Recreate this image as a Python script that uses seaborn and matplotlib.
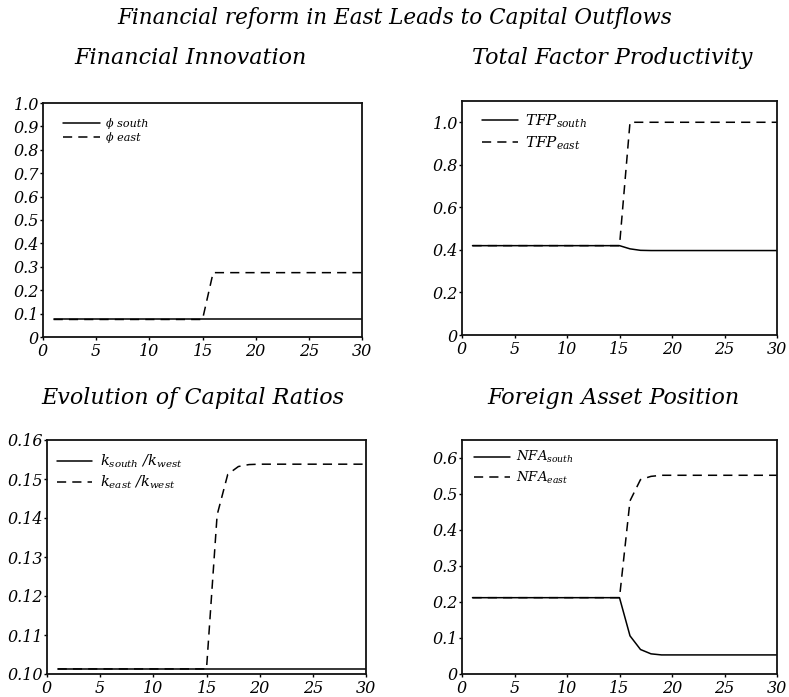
import numpy as np
import pandas as pd
import matplotlib
matplotlib.use("Agg")
import matplotlib.pyplot as plt
import seaborn as sns

# periods
t = list(range(1, 31))

# financial innovation (phi)
phi_south = [0.075] * 30
phi_east = [0.075] * 15 + [0.275] * 15

# total factor productivity
tfp_south = [0.42] * 15 + [0.405, 0.398] + [0.397] * 13
tfp_east = [0.42] * 15 + [1.0] * 15

# capital ratios k / k_west
k_south = [0.1013] * 30
k_east = [0.1013] * 15 + [0.1408, 0.1512, 0.1532, 0.1537] + [0.1538] * 11

# net foreign assets
nfa_south = [0.212] * 15 + [0.106, 0.068, 0.056, 0.053] + [0.053] * 11
nfa_east = [0.212] * 15 + [0.481, 0.540, 0.549, 0.552] + [0.552] * 11

sns.set_style("ticks")
plt.rcParams['font.family'] = ['DejaVu Serif']
plt.rcParams['font.style'] = 'italic'
plt.rcParams['text.color'] = 'black'
plt.rcParams['xtick.color'] = 'black'
plt.rcParams['ytick.color'] = 'black'
plt.rcParams['mathtext.fontset'] = 'custom'
plt.rcParams['mathtext.it'] = 'DejaVu Serif:italic'
plt.rcParams['mathtext.rm'] = 'DejaVu Serif:italic'

fig = plt.figure(figsize=(7.89, 6.97), dpi=100)
W, H = 789, 697

def box(l, t_, r, b):
    return [l / W, 1 - b / H, (r - l) / W, (b - t_) / H]

panels = [
    dict(pos=box(43, 103, 362, 337), title="Financial Innovation", tx=191, ty=58,
         s=phi_south, e=phi_east, ls="ϕ south", le="ϕ east",
         ylim=(0, 1.0), yt=np.arange(0, 1.01, 0.1),
         yl=["0"] + ["%.1f" % v for v in np.arange(0.1, 1.01, 0.1)],
         lfs=8, anchor=(0.063, 0.935), hl=3.3, htp=0.6, lsp=0.25),
    dict(pos=box(462, 101, 777, 335), title="Total Factor Productivity", tx=612, ty=58,
         s=tfp_south, e=tfp_east, ls=r"$TFP_{south}$", le=r"$TFP_{east}$",
         ylim=(0, 1.1), yt=[0, 0.2, 0.4, 0.6, 0.8, 1.0],
         yl=["0", "0.2", "0.4", "0.6", "0.8", "1.0"],
         lfs=11, anchor=(0.063, 0.95), hl=2.35, htp=0.45, lsp=0.3),
    dict(pos=box(47, 440, 366, 674), title="Evolution of Capital Ratios", tx=193, ty=398,
         s=k_south, e=k_east, ls=r"$k_{south}\ /k_{west}$", le=r"$k_{east}\ /k_{west}$",
         ylim=(0.10, 0.16), yt=[0.10, 0.11, 0.12, 0.13, 0.14, 0.15, 0.16],
         yl=["0.10", "0.11", "0.12", "0.13", "0.14", "0.15", "0.16"],
         lfs=10.5, anchor=(0.031, 0.945), hl=2.4, htp=0.55, lsp=0.25),
    dict(pos=box(462, 440, 777, 674), title="Foreign Asset Position", tx=613, ty=398,
         s=nfa_south, e=nfa_east, ls=r"$NFA_{south}$", le=r"$NFA_{east}$",
         ylim=(0, 0.65), yt=[0, 0.1, 0.2, 0.3, 0.4, 0.5, 0.6],
         yl=["0", "0.1", "0.2", "0.3", "0.4", "0.5", "0.6"],
         lfs=9.5, anchor=(0.038, 0.96), hl=2.7, htp=0.45, lsp=0.3),
]

for p in panels:
    ax = fig.add_axes(p["pos"])
    df = pd.DataFrame({"t": t + t,
                       "val": p["s"] + p["e"],
                       "series": [p["ls"]] * 30 + [p["le"]] * 30})
    sns.lineplot(data=df, x="t", y="val", style="series", color="black",
                 dashes={p["ls"]: "", p["le"]: (6, 4)}, linewidth=1.1, ax=ax)
    ax.set_xlim(0, 30)
    ax.set_ylim(*p["ylim"])
    ax.set_xticks(range(0, 31, 5))
    ax.set_yticks(p["yt"])
    ax.set_yticklabels(p["yl"])
    ax.set_xlabel("")
    ax.set_ylabel("")
    ax.tick_params(labelsize=11.5, length=2.5, width=1, color="black")
    ax.tick_params(axis="y", pad=0.5)
    ax.tick_params(axis="x", pad=1.5)
    for sp in ax.spines.values():
        sp.set_linewidth(1.3)
        sp.set_color("#111111")
    ax.legend(loc="upper left", bbox_to_anchor=p["anchor"], frameon=False,
              fontsize=p["lfs"], handlelength=p["hl"], handletextpad=p["htp"],
              labelspacing=p["lsp"], borderpad=0, borderaxespad=0)
    fig.text(p["tx"] / W, 1 - p["ty"] / H, p["title"], ha="center", va="center",
             fontsize=16, style="italic")

fig.text(0.5, 1 - 18 / H, "Financial reform in East Leads to Capital Outflows",
         ha="center", va="center", fontsize=15.5, style="italic")

fig.savefig("out.png", dpi=100)
